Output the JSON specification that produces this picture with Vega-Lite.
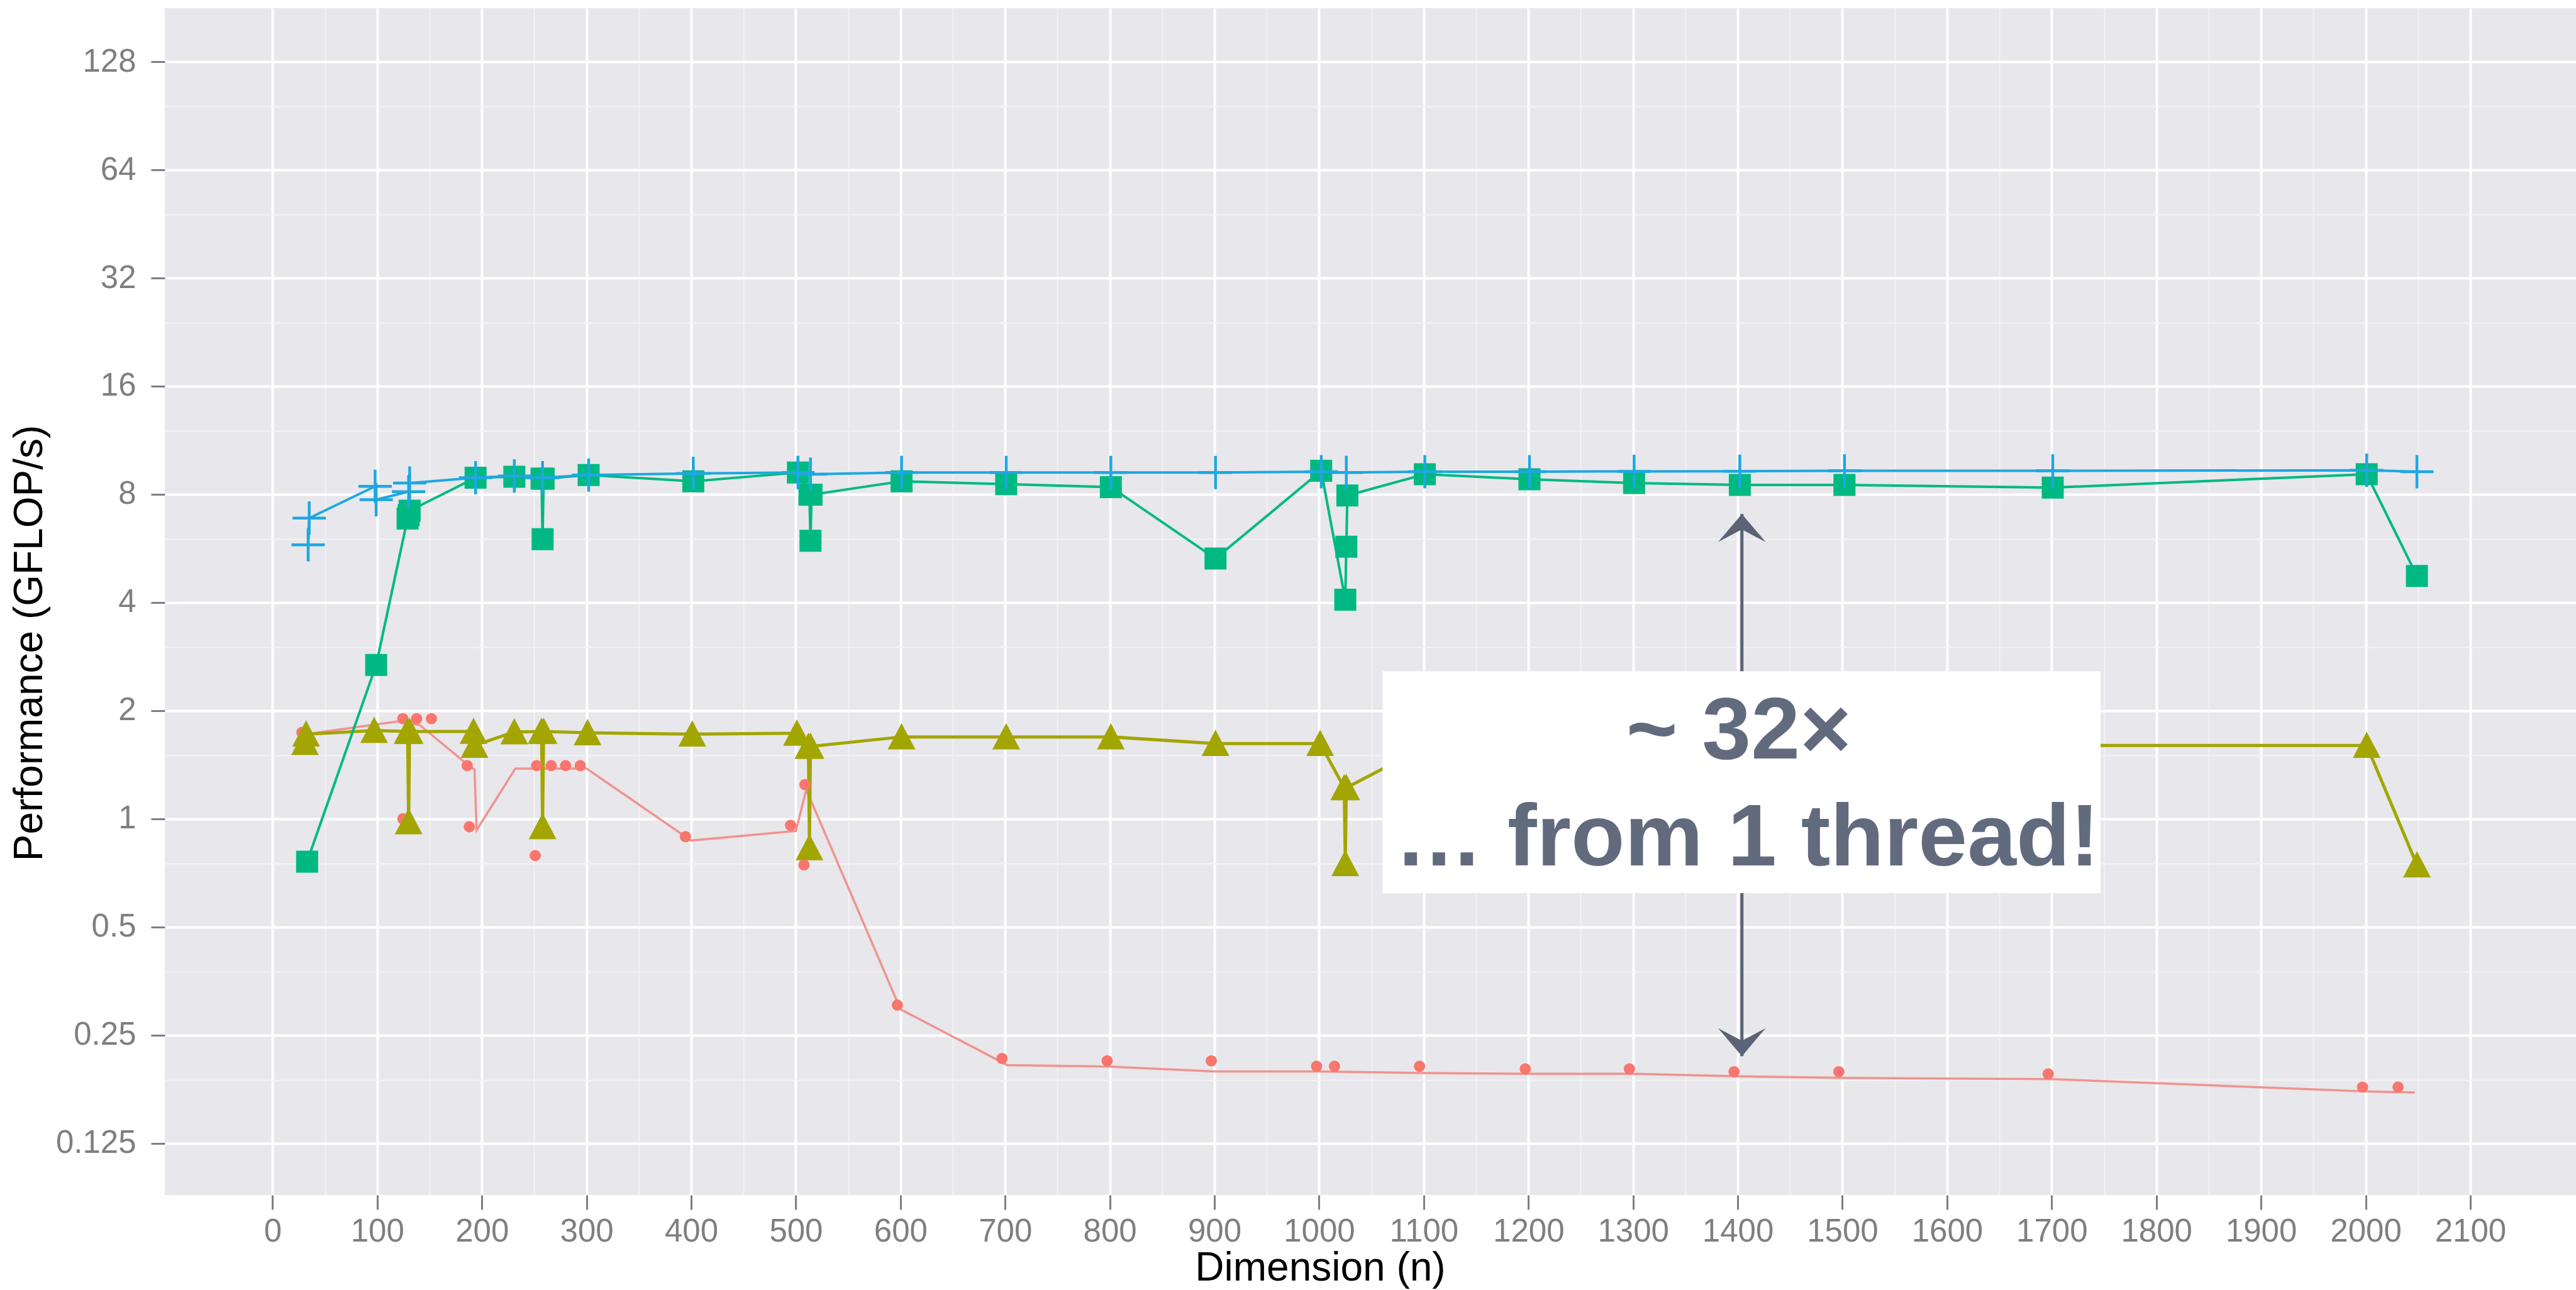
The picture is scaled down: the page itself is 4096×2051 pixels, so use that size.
{
  "$schema": "https://vega.github.io/schema/vega-lite/v6.json",
  "width": 3834,
  "height": 1887,
  "autosize": {"type": "none"},
  "padding": {"left": 262, "top": 13, "right": 0, "bottom": 151},
  "background": "white",
  "config": {
    "view": {"stroke": null, "fill": "#e8e7eb"}
  },
  "datasets": {
    "pts": [
      {"s": "A", "n": 28, "p": 1.74, "o": 1},
      {"s": "A", "n": 31, "p": 1.72, "o": 2},
      {"s": "A", "n": 124.5, "p": 1.0, "o": 3},
      {"s": "A", "n": 124.5, "p": 1.9, "o": 4},
      {"s": "A", "n": 137.7, "p": 1.9, "o": 5},
      {"s": "A", "n": 151.8, "p": 1.9, "o": 6},
      {"s": "A", "n": 186, "p": 1.406, "o": 7},
      {"s": "A", "n": 188, "p": 0.95, "o": 8},
      {"s": "A", "n": 251, "p": 0.79, "o": 9},
      {"s": "A", "n": 252.3, "p": 1.406, "o": 10},
      {"s": "A", "n": 266.3, "p": 1.406, "o": 11},
      {"s": "A", "n": 280, "p": 1.406, "o": 12},
      {"s": "A", "n": 294, "p": 1.406, "o": 13},
      {"s": "A", "n": 394.5, "p": 0.892, "o": 14},
      {"s": "A", "n": 495, "p": 0.959, "o": 15},
      {"s": "A", "n": 507.8, "p": 0.744, "o": 16},
      {"s": "A", "n": 508.7, "p": 1.245, "o": 17},
      {"s": "A", "n": 597, "p": 0.303, "o": 18},
      {"s": "A", "n": 697, "p": 0.2152, "o": 19},
      {"s": "A", "n": 797.5, "p": 0.212, "o": 20},
      {"s": "A", "n": 897, "p": 0.212, "o": 21},
      {"s": "A", "n": 997.6, "p": 0.2047, "o": 22},
      {"s": "A", "n": 1014.7, "p": 0.2047, "o": 23},
      {"s": "A", "n": 1096, "p": 0.2047, "o": 24},
      {"s": "A", "n": 1197, "p": 0.2014, "o": 25},
      {"s": "A", "n": 1296.5, "p": 0.2014, "o": 26},
      {"s": "A", "n": 1396.5, "p": 0.1977, "o": 27},
      {"s": "A", "n": 1496.6, "p": 0.1977, "o": 28},
      {"s": "A", "n": 1696.7, "p": 0.195, "o": 29},
      {"s": "A", "n": 1997, "p": 0.1792, "o": 30},
      {"s": "A", "n": 2031, "p": 0.1792, "o": 31},

      {"s": "B", "n": 31, "p": 1.63, "o": 1},
      {"s": "B", "n": 32, "p": 1.72, "o": 2},
      {"s": "B", "n": 97, "p": 1.76, "o": 3},
      {"s": "B", "n": 129, "p": 1.75, "o": 4},
      {"s": "B", "n": 130, "p": 0.98, "o": 5},
      {"s": "B", "n": 131, "p": 1.75, "o": 6},
      {"s": "B", "n": 192, "p": 1.75, "o": 7},
      {"s": "B", "n": 193, "p": 1.6, "o": 8},
      {"s": "B", "n": 231, "p": 1.745, "o": 9},
      {"s": "B", "n": 257, "p": 1.75, "o": 10},
      {"s": "B", "n": 258, "p": 0.95, "o": 11},
      {"s": "B", "n": 259, "p": 1.75, "o": 12},
      {"s": "B", "n": 301, "p": 1.735, "o": 13},
      {"s": "B", "n": 401, "p": 1.72, "o": 14},
      {"s": "B", "n": 501, "p": 1.73, "o": 15},
      {"s": "B", "n": 512, "p": 1.59, "o": 16},
      {"s": "B", "n": 513, "p": 0.83, "o": 17},
      {"s": "B", "n": 514, "p": 1.59, "o": 18},
      {"s": "B", "n": 601, "p": 1.69, "o": 19},
      {"s": "B", "n": 701, "p": 1.69, "o": 20},
      {"s": "B", "n": 801, "p": 1.69, "o": 21},
      {"s": "B", "n": 901, "p": 1.62, "o": 22},
      {"s": "B", "n": 1001, "p": 1.62, "o": 23},
      {"s": "B", "n": 1024, "p": 1.22, "o": 24},
      {"s": "B", "n": 1025, "p": 0.75, "o": 25},
      {"s": "B", "n": 1026, "p": 1.22, "o": 26},
      {"s": "B", "n": 1100, "p": 1.58, "o": 27},
      {"s": "B", "n": 1200, "p": 1.6, "o": 28},
      {"s": "B", "n": 1300, "p": 1.6, "o": 29},
      {"s": "B", "n": 1400, "p": 1.6, "o": 30},
      {"s": "B", "n": 1500, "p": 1.6, "o": 31},
      {"s": "B", "n": 1700, "p": 1.6, "o": 32},
      {"s": "B", "n": 2001, "p": 1.6, "o": 33},
      {"s": "B", "n": 2049, "p": 0.744, "o": 34},

      {"s": "C", "n": 33, "p": 0.76, "o": 1},
      {"s": "C", "n": 99, "p": 2.68, "o": 2},
      {"s": "C", "n": 129, "p": 6.85, "o": 3},
      {"s": "C", "n": 130, "p": 7.0, "o": 4},
      {"s": "C", "n": 131, "p": 7.2, "o": 5},
      {"s": "C", "n": 194, "p": 8.9, "o": 6},
      {"s": "C", "n": 231, "p": 8.95, "o": 7},
      {"s": "C", "n": 257, "p": 8.85, "o": 8},
      {"s": "C", "n": 258, "p": 6.0, "o": 9},
      {"s": "C", "n": 259, "p": 8.85, "o": 10},
      {"s": "C", "n": 302, "p": 9.05, "o": 11},
      {"s": "C", "n": 402, "p": 8.7, "o": 12},
      {"s": "C", "n": 502, "p": 9.2, "o": 13},
      {"s": "C", "n": 513, "p": 7.98, "o": 14},
      {"s": "C", "n": 514, "p": 5.94, "o": 15},
      {"s": "C", "n": 515, "p": 7.98, "o": 16},
      {"s": "C", "n": 601, "p": 8.7, "o": 17},
      {"s": "C", "n": 701, "p": 8.54, "o": 18},
      {"s": "C", "n": 801, "p": 8.38, "o": 19},
      {"s": "C", "n": 901, "p": 5.3, "o": 20},
      {"s": "C", "n": 1002, "p": 9.3, "o": 21},
      {"s": "C", "n": 1025, "p": 4.07, "o": 22},
      {"s": "C", "n": 1026, "p": 5.72, "o": 23},
      {"s": "C", "n": 1027, "p": 7.94, "o": 24},
      {"s": "C", "n": 1101, "p": 9.1, "o": 25},
      {"s": "C", "n": 1201, "p": 8.81, "o": 26},
      {"s": "C", "n": 1301, "p": 8.6, "o": 27},
      {"s": "C", "n": 1402, "p": 8.5, "o": 28},
      {"s": "C", "n": 1502, "p": 8.5, "o": 29},
      {"s": "C", "n": 1701, "p": 8.35, "o": 30},
      {"s": "C", "n": 2001, "p": 9.1, "o": 31},
      {"s": "C", "n": 2049, "p": 4.74, "o": 32},

      {"s": "D", "n": 34, "p": 5.79, "o": 1},
      {"s": "D", "n": 35, "p": 6.87, "o": 2},
      {"s": "D", "n": 98, "p": 8.42, "o": 3},
      {"s": "D", "n": 99, "p": 7.73, "o": 4},
      {"s": "D", "n": 130, "p": 8.14, "o": 5},
      {"s": "D", "n": 131, "p": 8.6, "o": 6},
      {"s": "D", "n": 194, "p": 8.9, "o": 7},
      {"s": "D", "n": 231, "p": 9.0, "o": 8},
      {"s": "D", "n": 258, "p": 8.9, "o": 9},
      {"s": "D", "n": 302, "p": 9.05, "o": 10},
      {"s": "D", "n": 402, "p": 9.15, "o": 11},
      {"s": "D", "n": 502, "p": 9.2, "o": 12},
      {"s": "D", "n": 514, "p": 9.1, "o": 13},
      {"s": "D", "n": 601, "p": 9.2, "o": 14},
      {"s": "D", "n": 701, "p": 9.2, "o": 15},
      {"s": "D", "n": 801, "p": 9.2, "o": 16},
      {"s": "D", "n": 901, "p": 9.2, "o": 17},
      {"s": "D", "n": 1002, "p": 9.25, "o": 18},
      {"s": "D", "n": 1026, "p": 9.2, "o": 19},
      {"s": "D", "n": 1101, "p": 9.25, "o": 20},
      {"s": "D", "n": 1201, "p": 9.25, "o": 21},
      {"s": "D", "n": 1301, "p": 9.27, "o": 22},
      {"s": "D", "n": 1402, "p": 9.28, "o": 23},
      {"s": "D", "n": 1502, "p": 9.3, "o": 24},
      {"s": "D", "n": 1701, "p": 9.3, "o": 25},
      {"s": "D", "n": 2001, "p": 9.33, "o": 26},
      {"s": "D", "n": 2049, "p": 9.25, "o": 27}
    ],
    "redline": [
      {"n": 32, "p": 1.72, "o": 1},
      {"n": 122, "p": 1.87, "o": 2},
      {"n": 141, "p": 1.82, "o": 3},
      {"n": 187, "p": 1.41, "o": 4},
      {"n": 193, "p": 1.37, "o": 5},
      {"n": 195, "p": 0.93, "o": 6},
      {"n": 232, "p": 1.38, "o": 7},
      {"n": 300, "p": 1.38, "o": 8},
      {"n": 400, "p": 0.87, "o": 9},
      {"n": 500, "p": 0.925, "o": 10},
      {"n": 510, "p": 1.205, "o": 11},
      {"n": 600, "p": 0.295, "o": 12},
      {"n": 702, "p": 0.2063, "o": 13},
      {"n": 800, "p": 0.2043, "o": 14},
      {"n": 900, "p": 0.198, "o": 15},
      {"n": 1000, "p": 0.198, "o": 16},
      {"n": 1100, "p": 0.196, "o": 17},
      {"n": 1200, "p": 0.195, "o": 18},
      {"n": 1300, "p": 0.195, "o": 19},
      {"n": 1400, "p": 0.192, "o": 20},
      {"n": 1500, "p": 0.19, "o": 21},
      {"n": 1700, "p": 0.1886, "o": 22},
      {"n": 2000, "p": 0.1743, "o": 23},
      {"n": 2047, "p": 0.173, "o": 24}
    ],
    "box": [{"n": 1060.6, "n2": 1746.7, "p": 0.621, "p2": 2.575}],
    "note": [
      {"t": "~ 32×", "n": 1401, "p": 1.473},
      {"t": "… from 1 thread!", "n": 1409, "p": 0.743}
    ],
    "arrow": [{"n": 1404, "p": 7.05, "p2": 0.2185}],
    "heads": [
      {"d": "up", "n": 1404, "p": 7.05},
      {"d": "down", "n": 1404, "p": 0.2185}
    ]
  },
  "encoding": {
    "x": {
      "field": "n",
      "type": "quantitative",
      "scale": {"domain": [-103, 2201], "nice": false, "zero": false},
      "axis": {
        "title": "Dimension (n)",
        "titleX": 1837,
        "values": [0,50,100,150,200,250,300,350,400,450,500,550,600,650,700,750,800,850,900,950,1000,1050,1100,1150,1200,1250,1300,1350,1400,1450,1500,1550,1600,1650,1700,1750,1800,1850,1900,1950,2000,2050,2100],
        "format": "d",
        "labelExpr": "datum.value % 100 == 0 ? datum.label : ''",
        "grid": true,
        "gridColor": {"condition": {"test": "datum.value % 100 == 0", "value": "#ffffff"}, "value": "#f3f2f5"},
        "gridWidth": {"condition": {"test": "datum.value % 100 == 0", "value": 4}, "value": 2},
        "tickOpacity": {"condition": {"test": "datum.value % 100 == 0", "value": 1}, "value": 0},
        "tickSize": 23,
        "tickWidth": 3,
        "tickColor": "#7f7f7f",
        "domain": false,
        "labelFont": "Liberation Sans",
        "labelFontSize": 51,
        "labelColor": "#7f7f7f",
        "labelPadding": 10,
        "labelFlush": false,
        "labelOverlap": false,
        "titleFont": "Liberation Sans",
        "titleFontSize": 64,
        "titleFontWeight": "normal",
        "titleColor": "#000000",
        "titlePadding": 1
      }
    },
    "y": {
      "field": "p",
      "type": "quantitative",
      "scale": {"type": "log", "base": 2, "domain": [0.0897, 180.4], "nice": false},
      "axis": {
        "title": "Performance (GFLOP/s)",
        "titleY": 1009,
        "values": [0.125,0.1875,0.25,0.375,0.5,0.75,1,1.5,2,3,4,6,8,12,16,24,32,48,64,96,128],
        "format": "~g",
        "labelExpr": "indexof([0.125,0.25,0.5,1,2,4,8,16,32,64,128], datum.value) >= 0 ? datum.label : ''",
        "grid": true,
        "gridColor": {"condition": {"test": "indexof([0.125,0.25,0.5,1,2,4,8,16,32,64,128], datum.value) >= 0", "value": "#ffffff"}, "value": "#f3f2f5"},
        "gridWidth": {"condition": {"test": "indexof([0.125,0.25,0.5,1,2,4,8,16,32,64,128], datum.value) >= 0", "value": 4}, "value": 2},
        "tickOpacity": {"condition": {"test": "indexof([0.125,0.25,0.5,1,2,4,8,16,32,64,128], datum.value) >= 0", "value": 1}, "value": 0},
        "tickSize": 22,
        "tickWidth": 3,
        "tickColor": "#7f7f7f",
        "domain": false,
        "labelFont": "Liberation Sans",
        "labelFontSize": 51,
        "labelColor": "#7f7f7f",
        "labelPadding": 24,
        "labelOverlap": false,
        "titleFont": "Liberation Sans",
        "titleFontSize": 64,
        "titleFontWeight": "normal",
        "titleColor": "#000000",
        "titlePadding": 9
      }
    }
  },
  "layer": [
    {
      "data": {"name": "redline"},
      "mark": {"type": "line", "color": "#f08a84", "strokeWidth": 3.5, "opacity": 0.9},
      "encoding": {"order": {"field": "o", "type": "quantitative"}}
    },
    {
      "data": {"name": "pts"},
      "transform": [{"filter": "datum.s == 'B'"}],
      "mark": {"type": "line", "color": "#a3a500", "strokeWidth": 5},
      "encoding": {"order": {"field": "o", "type": "quantitative"}}
    },
    {
      "data": {"name": "pts"},
      "transform": [{"filter": "datum.s == 'C'"}],
      "mark": {"type": "line", "color": "#00b982", "strokeWidth": 4},
      "encoding": {"order": {"field": "o", "type": "quantitative"}}
    },
    {
      "data": {"name": "pts"},
      "transform": [{"filter": "datum.s == 'D'"}],
      "mark": {"type": "line", "color": "#1ea7e2", "strokeWidth": 4},
      "encoding": {"order": {"field": "o", "type": "quantitative"}}
    },
    {
      "data": {"name": "pts"},
      "transform": [{"filter": "datum.s == 'A'"}],
      "mark": {"type": "point", "shape": "circle", "filled": true, "opacity": 1, "color": "#f8766d", "size": 320}
    },
    {
      "data": {"name": "pts"},
      "transform": [{"filter": "datum.s == 'B'"}],
      "mark": {"type": "point", "shape": "M0,-1L1,0.9L-1,0.9Z", "filled": true, "opacity": 1, "color": "#a3a500", "size": 1936}
    },
    {
      "data": {"name": "pts"},
      "transform": [{"filter": "datum.s == 'C'"}],
      "mark": {"type": "point", "shape": "square", "filled": true, "opacity": 1, "color": "#00b982", "size": 1225}
    },
    {
      "data": {"name": "pts"},
      "transform": [{"filter": "datum.s == 'D'"}],
      "mark": {"type": "point", "shape": "M-1,0L1,0M0,-1L0,1", "filled": false, "opacity": 1, "color": "#1ea7e2", "strokeWidth": 4.5, "size": 2800}
    },
    {
      "data": {"name": "arrow"},
      "mark": {"type": "rule", "color": "#5b6376", "strokeWidth": 5},
      "encoding": {"y2": {"field": "p2"}}
    },
    {
      "data": {"name": "box"},
      "mark": {"type": "rect", "fill": "#ffffff"},
      "encoding": {"x2": {"field": "n2"}, "y2": {"field": "p2"}}
    },
    {
      "data": {"name": "note"},
      "mark": {"type": "text", "font": "Liberation Sans", "fontWeight": "bold", "fontSize": 140, "color": "#626b7e", "align": "center", "baseline": "alphabetic"},
      "encoding": {"text": {"field": "t", "type": "nominal"}}
    },
    {
      "data": {"name": "heads"},
      "mark": {"type": "point", "filled": true, "opacity": 1, "color": "#5b6376", "size": 7921},
      "encoding": {
        "shape": {
          "field": "d",
          "type": "nominal",
          "scale": {"domain": ["up", "down"], "range": ["M0,0L0.85,1L0,0.55L-0.85,1Z", "M0,0L0.85,-1L0,-0.55L-0.85,-1Z"]},
          "legend": null
        }
      }
    }
  ]
}
